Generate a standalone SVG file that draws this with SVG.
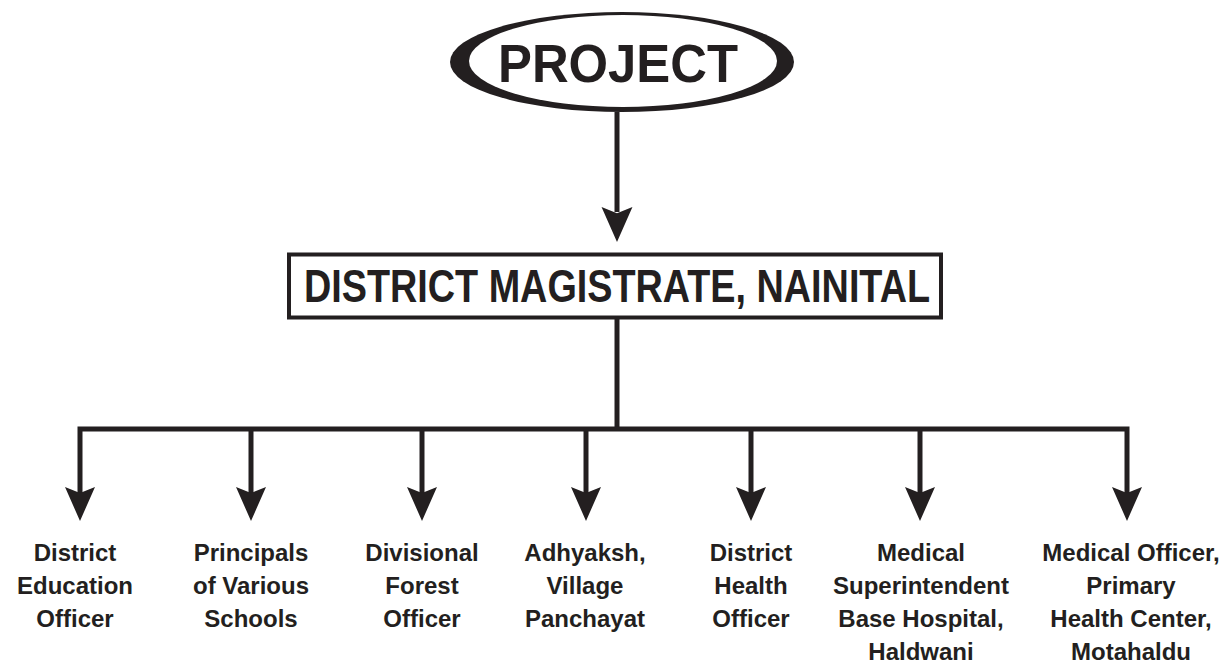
<svg xmlns="http://www.w3.org/2000/svg" width="1232" height="666" viewBox="0 0 1232 666">
<style>
.ln{fill:none;stroke:#231f20;stroke-width:5;stroke-linejoin:miter;stroke-linecap:butt}
.hd{fill:#231f20}
.lb{font-family:"Liberation Sans",Arial,sans-serif;font-weight:bold;font-size:24px;fill:#231f20;text-anchor:middle}
.big{font-family:"Liberation Sans",Arial,sans-serif;font-weight:bold;fill:#231f20;text-anchor:middle}
</style>
<defs>
<path id="ah" d="M-15,0 L0,6 L15,0 L0,34 Z"/>
</defs>
<rect width="1232" height="666" fill="#ffffff"/>
<g id="project">
<ellipse cx="622" cy="62" rx="172" ry="50" fill="#231f20"/>
<ellipse cx="623" cy="61" rx="154" ry="46" fill="#ffffff"/>
<text class="big" x="618" y="82" font-size="54" textLength="240" lengthAdjust="spacingAndGlyphs">PROJECT</text>
</g>
<g id="district-magistrate">
<rect x="289" y="254.5" width="652" height="63" fill="#ffffff" stroke="#231f20" stroke-width="4"/>
<text class="big" x="617" y="302" font-size="46" textLength="626" lengthAdjust="spacingAndGlyphs">DISTRICT MAGISTRATE, NAINITAL</text>
</g>
<g id="connectors">
<line class="ln" x1="617" y1="112" x2="617" y2="212" stroke-width="6"/>
<use href="#ah" x="617" y="207" class="hd" transform="translate(617,207) scale(1.03,1.03) translate(-617,-207)"/>
<line class="ln" x1="617" y1="319" x2="617" y2="429"/>
<path class="ln" d="M80,495 V429 H1127 V495"/>
<line class="ln" x1="251" y1="429" x2="251" y2="495"/>
<line class="ln" x1="422" y1="429" x2="422" y2="495"/>
<line class="ln" x1="586" y1="429" x2="586" y2="495"/>
<line class="ln" x1="751" y1="429" x2="751" y2="495"/>
<line class="ln" x1="920" y1="429" x2="920" y2="495"/>
<use href="#ah" x="80" y="487" class="hd"/>
<use href="#ah" x="251" y="487" class="hd"/>
<use href="#ah" x="422" y="487" class="hd"/>
<use href="#ah" x="586" y="487" class="hd"/>
<use href="#ah" x="751" y="487" class="hd"/>
<use href="#ah" x="920" y="487" class="hd"/>
<use href="#ah" x="1127" y="487" class="hd"/>
</g>
<g id="deo">
<text class="lb" x="75" y="561">District</text>
<text class="lb" x="75" y="594">Education</text>
<text class="lb" x="75" y="627">Officer</text>
</g>
<g id="principals">
<text class="lb" x="251" y="561">Principals</text>
<text class="lb" x="251" y="594">of Various</text>
<text class="lb" x="251" y="627">Schools</text>
</g>
<g id="dfo">
<text class="lb" x="422" y="561">Divisional</text>
<text class="lb" x="422" y="594">Forest</text>
<text class="lb" x="422" y="627">Officer</text>
</g>
<g id="adhyaksh">
<text class="lb" x="585" y="561">Adhyaksh,</text>
<text class="lb" x="585" y="594">Village</text>
<text class="lb" x="585" y="627">Panchayat</text>
</g>
<g id="dho">
<text class="lb" x="751" y="561">District</text>
<text class="lb" x="751" y="594">Health</text>
<text class="lb" x="751" y="627">Officer</text>
</g>
<g id="ms">
<text class="lb" x="921" y="561">Medical</text>
<text class="lb" x="921" y="594">Superintendent</text>
<text class="lb" x="921" y="627">Base Hospital,</text>
<text class="lb" x="921" y="660">Haldwani</text>
</g>
<g id="mo">
<text class="lb" x="1131" y="561">Medical Officer,</text>
<text class="lb" x="1131" y="594">Primary</text>
<text class="lb" x="1131" y="627">Health Center,</text>
<text class="lb" x="1131" y="660">Motahaldu</text>
</g>
</svg>
